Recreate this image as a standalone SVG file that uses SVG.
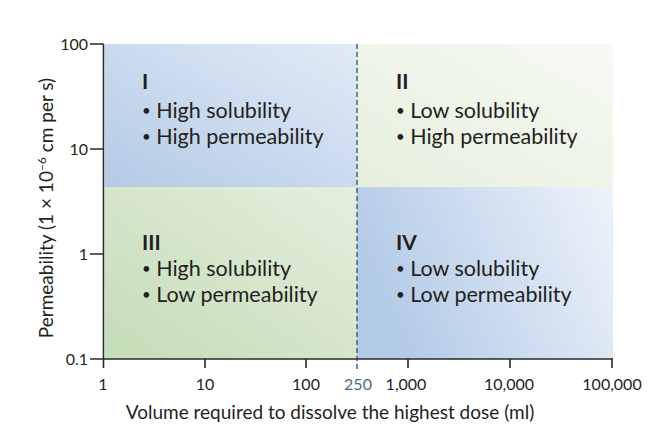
<svg xmlns="http://www.w3.org/2000/svg" width="657" height="437" viewBox="0 0 657 437">
<defs>
<linearGradient id="gI" x1="0" y1="1" x2="1" y2="0"><stop offset="0" stop-color="#b3cae6"/><stop offset="1" stop-color="#e2ebf6"/></linearGradient>
<linearGradient id="gII" x1="0" y1="1" x2="1" y2="0"><stop offset="0" stop-color="#e6efdd"/><stop offset="1" stop-color="#f7faf4"/></linearGradient>
<linearGradient id="gIII" x1="0" y1="1" x2="1" y2="0"><stop offset="0" stop-color="#c4dcb7"/><stop offset="1" stop-color="#e5efde"/></linearGradient>
<linearGradient id="gIV" x1="0" y1="0.3" x2="1" y2="0"><stop offset="0" stop-color="#b4cbe7"/><stop offset="1" stop-color="#eef3fa"/></linearGradient>
<style>
text{font-family:Lato,"Open Sans","Liberation Sans",sans-serif;fill:#231f20}
.q{font-size:21.5px}
.qt{font-size:21px;font-weight:bold}
.b{font-size:15px}
.tk{font-size:16px}
.ax{stroke:#2a2a2a;stroke-width:1.6;fill:none}
.ttl{font-size:19px}
</style>
</defs>
<rect width="657" height="437" fill="#fff"/>
<g id="quadrant-I">
<rect x="105" y="44" width="252" height="143" fill="url(#gI)"/>
<text class="qt" x="142" y="89">I</text>
<text class="q" x="142" y="118"><tspan class="b" dy="-2">•</tspan><tspan dy="2"> High solubility</tspan></text>
<text class="q" x="142" y="144"><tspan class="b" dy="-2">•</tspan><tspan dy="2"> High permeability</tspan></text>
</g>
<g id="quadrant-II">
<rect x="357" y="44" width="256" height="143" fill="url(#gII)"/>
<text class="qt" x="396" y="89">II</text>
<text class="q" x="396" y="118"><tspan class="b" dy="-2">•</tspan><tspan dy="2"> Low solubility</tspan></text>
<text class="q" x="396" y="144"><tspan class="b" dy="-2">•</tspan><tspan dy="2"> High permeability</tspan></text>
</g>
<g id="quadrant-III">
<rect x="105" y="187" width="252" height="172" fill="url(#gIII)"/>
<text class="qt" x="142" y="250">III</text>
<text class="q" x="142" y="276"><tspan class="b" dy="-2">•</tspan><tspan dy="2"> High solubility</tspan></text>
<text class="q" x="142" y="302"><tspan class="b" dy="-2">•</tspan><tspan dy="2"> Low permeability</tspan></text>
</g>
<g id="quadrant-IV">
<rect x="357" y="187" width="256" height="172" fill="url(#gIV)"/>
<text class="qt" x="396" y="250">IV</text>
<text class="q" x="396" y="276"><tspan class="b" dy="-2">•</tspan><tspan dy="2"> Low solubility</tspan></text>
<text class="q" x="396" y="302"><tspan class="b" dy="-2">•</tspan><tspan dy="2"> Low permeability</tspan></text>
</g>
<g id="connectors">
<line x1="357" y1="44" x2="357" y2="370" stroke="#4a6a86" stroke-width="1.6" stroke-dasharray="5,3"/>
</g>
<g id="axes">
<path class="ax" d="M103.5,44 V368 M90,44 H103.5 M90,149 H103.5 M90,254 H103.5 M90,359 H613 M205,359 V368 M306,359 V368 M408,359 V368 M510,359 V368 M612,359 V368"/>
<g text-anchor="end">
<text class="tk" x="88" y="50">100</text>
<text class="tk" x="88" y="155">10</text>
<text class="tk" x="88" y="260">1</text>
<text class="tk" x="88" y="365">0.1</text>
</g>
<g text-anchor="middle">
<text class="tk" x="103" y="390">1</text>
<text class="tk" x="205" y="390">10</text>
<text class="tk" x="306" y="390">100</text>
<text class="tk" x="358" y="390" style="fill:#4a6a86">250</text>
<text class="tk" x="406" y="390">1,000</text>
<text class="tk" x="509" y="390">10,000</text>
<text class="tk" x="612" y="390">100,000</text>
<text class="ttl" x="330" y="419">Volume required to dissolve the highest dose (ml)</text>
<text class="ttl" transform="translate(53,208) rotate(-90)">Permeability (1 × 10<tspan dy="-7" font-size="12">−6</tspan><tspan dy="7"> cm per s)</tspan></text>
</g>
</g>
</svg>
